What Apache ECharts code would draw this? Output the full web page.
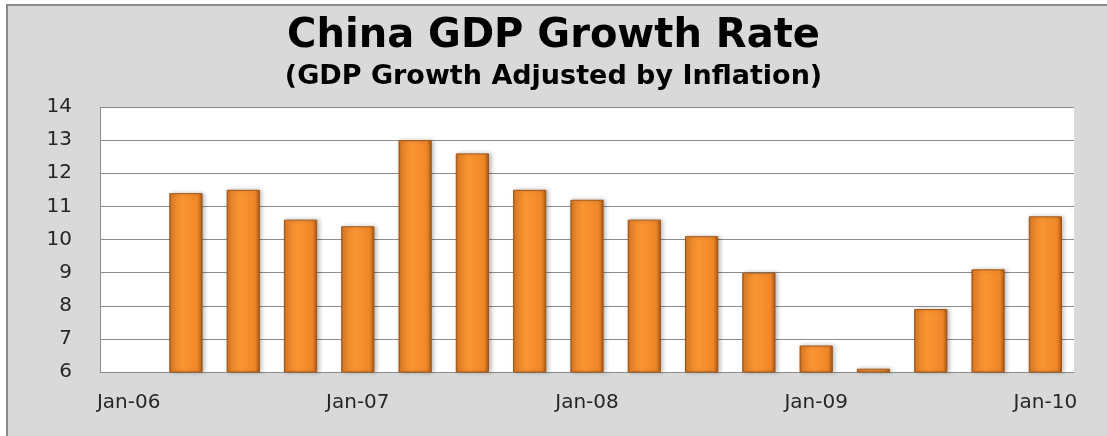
<!DOCTYPE html>
<html>
<head>
<meta charset="utf-8">
<script src="https://cdn.jsdelivr.net/npm/echarts@6/dist/echarts.min.js"></script>
<style>
html,body{margin:0;padding:0;background:#fff;}
#chart{width:1107px;height:436px;}
</style>
</head>
<body>
<div id="chart"></div>
<script>
var titleText = 'China GDP Growth Rate';
var subtitleText = '(GDP Growth Adjusted by Inflation)';
var categories = ['Jan-06','Apr-06','Jul-06','Oct-06','Jan-07','Apr-07','Jul-07','Oct-07','Jan-08','Apr-08','Jul-08','Oct-08','Jan-09','Apr-09','Jul-09','Oct-09','Jan-10'];
var gdpGrowth = [null, 11.4, 11.5, 10.6, 10.4, 13.0, 12.6, 11.5, 11.2, 10.6, 10.1, 9.0, 6.8, 6.1, 7.9, 9.1, 10.7];
var yMin = 6, yMax = 14, yInterval = 1;

var chart = echarts.init(document.getElementById('chart'), null, {renderer: 'canvas'});
chart.setOption({
  backgroundColor: '#ffffff',
  animation: false,
  graphic: [{
    type: 'rect',
    z: -10,
    silent: true,
    shape: {x: 7, y: 5, width: 1120, height: 450},
    style: {fill: '#d9d9d9', stroke: '#8a8a8a', lineWidth: 2}
  }],
  title: {
    text: titleText,
    subtext: subtitleText,
    left: 'center',
    top: 12,
    itemGap: 6,
    textStyle: {fontFamily: 'DejaVu Sans', fontWeight: 'bold', fontSize: 40, color: '#000'},
    subtextStyle: {fontFamily: 'DejaVu Sans', fontWeight: 'bold', fontSize: 27, color: '#000'}
  },
  grid: {
    left: 100, top: 107, right: 33, bottom: 64,
    show: true, backgroundColor: '#ffffff', borderWidth: 0
  },
  xAxis: {
    type: 'category',
    data: categories,
    axisLine: {lineStyle: {color: '#8c8c8c', width: 1}},
    axisTick: {show: false},
    axisLabel: {interval: 3, color: '#262626', fontFamily: 'DejaVu Sans', fontSize: 20, margin: 21}
  },
  yAxis: {
    type: 'value',
    min: yMin, max: yMax, interval: yInterval,
    axisLine: {show: true, lineStyle: {color: '#8c8c8c', width: 1}},
    axisTick: {show: false},
    splitLine: {lineStyle: {color: '#8c8c8c', width: 1}},
    axisLabel: {color: '#262626', fontFamily: 'DejaVu Sans', fontSize: 20, margin: 28}
  },
  series: [{
    type: 'bar',
    data: gdpGrowth,
    barWidth: '58%',
    clip: true,
    itemStyle: {
      color: new echarts.graphic.LinearGradient(0, 0, 1, 0, [
        {offset: 0, color: '#a5561a'},
        {offset: 0.07, color: '#e58228'},
        {offset: 0.4, color: '#fb9532'},
        {offset: 0.85, color: '#ef8728'},
        {offset: 0.94, color: '#c86c1f'},
        {offset: 1, color: '#8e4a15'}
      ]),
      borderColor: '#a15618',
      borderWidth: 1,
      shadowColor: 'rgba(0,0,0,0.25)',
      shadowBlur: 4,
      shadowOffsetX: 2,
      shadowOffsetY: 0
    }
  }]
});
</script>
</body>
</html>
